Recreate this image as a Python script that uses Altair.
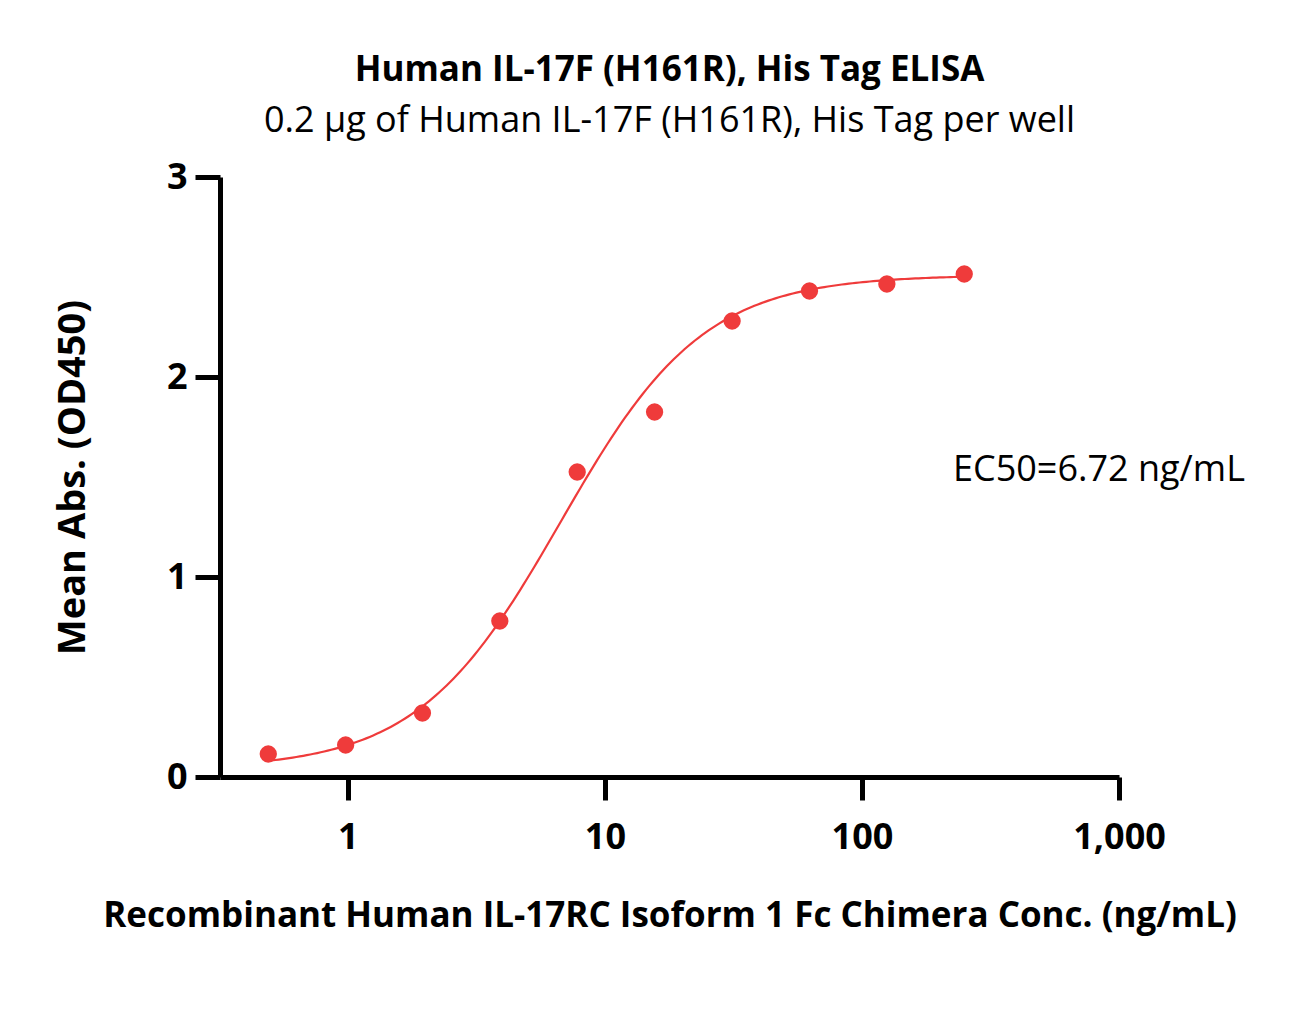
import altair as alt
import numpy as np
import pandas as pd

conc = [0.49, 0.98, 1.95, 3.9, 7.8, 15.6, 31.25, 62.5, 125, 250]
absorb = [0.115, 0.16, 0.32, 0.78, 1.525, 1.825, 2.28, 2.43, 2.465, 2.515]

# 4PL fit parameters (EC50 given on chart; others estimated from curve)
fit_bottom = 0.04
fit_top = 2.51
fit_ec50 = 6.72
fit_hill = 1.56

xs = np.logspace(np.log10(conc[0]), np.log10(conc[-1]), 200)
ys = fit_bottom + (fit_top - fit_bottom) / (1 + (fit_ec50 / xs) ** fit_hill)

pts = pd.DataFrame({"x": conc, "y": absorb})
curve = pd.DataFrame({"x": xs, "y": ys})

RED = "#EF3B3B"
FONT = "Open Sans"

xscale = alt.Scale(type="log", domain=[0.318, 1000], nice=False)
yscale = alt.Scale(domain=[0, 3], nice=False)

xaxis = alt.Axis(
    title="Recombinant Human IL-17RC Isoform 1 Fc Chimera Conc. (ng/mL)",
    values=[1, 10, 100, 1000],
    labelExpr="format(datum.value, ',')",
    grid=False, domainColor="black", domainWidth=5, tickColor="black",
    tickWidth=5, tickSize=23, labelFontSize=36, labelFont=FONT,
    labelFontWeight="bold", labelColor="black", labelPadding=20,
    titleFontSize=35, titleFont=FONT, titleFontWeight="bold",
    titleColor="black", titlePadding=43, labelFlush=False,
)
yaxis = alt.Axis(
    title="Mean Abs. (OD450)",
    values=[0, 1, 2, 3],
    format="d",
    grid=False, domainColor="black", domainWidth=5, tickColor="black",
    tickWidth=5, tickSize=25, labelFontSize=36, labelFont=FONT,
    labelFontWeight="bold", labelColor="black", labelPadding=8,
    titleFontSize=38, titleFont=FONT, titleFontWeight="bold",
    titleColor="black", titlePadding=74,
)

line = alt.Chart(curve).mark_line(color=RED, strokeWidth=2.2).encode(
    x=alt.X("x:Q", scale=xscale, axis=xaxis),
    y=alt.Y("y:Q", scale=yscale, axis=yaxis),
)
points = alt.Chart(pts).mark_circle(color=RED, size=300, opacity=1).encode(
    x=alt.X("x:Q", scale=xscale),
    y=alt.Y("y:Q", scale=yscale),
)
label = alt.Chart(pd.DataFrame({"t": ["EC50=6.72 ng/mL"]})).mark_text(
    align="left", baseline="middle", fontSize=36, font=FONT, color="black"
).encode(x=alt.value(733), y=alt.value(293), text="t:N")

chart = (
    alt.layer(line, points, label)
    .properties(
        width=899,
        height=600,
        background="white",
        title=alt.TitleParams(
            text="Human IL-17F (H161R), His Tag ELISA",
            subtitle="0.2 µg of Human IL-17F (H161R), His Tag per well",
            fontSize=35, font=FONT, fontWeight="bold", color="black",
            subtitleFontSize=36, subtitleFont=FONT, subtitleColor="black",
            subtitlePadding=16, anchor="middle", offset=20,
        ),
        autosize=alt.AutoSizeParams(type="none"),
        padding={"left": 212, "top": 169, "right": 150, "bottom": 220},
    )
    .configure_view(strokeWidth=0, stroke="transparent")
)

chart.save("out.html", embed_options={"renderer": "svg", "actions": False})
